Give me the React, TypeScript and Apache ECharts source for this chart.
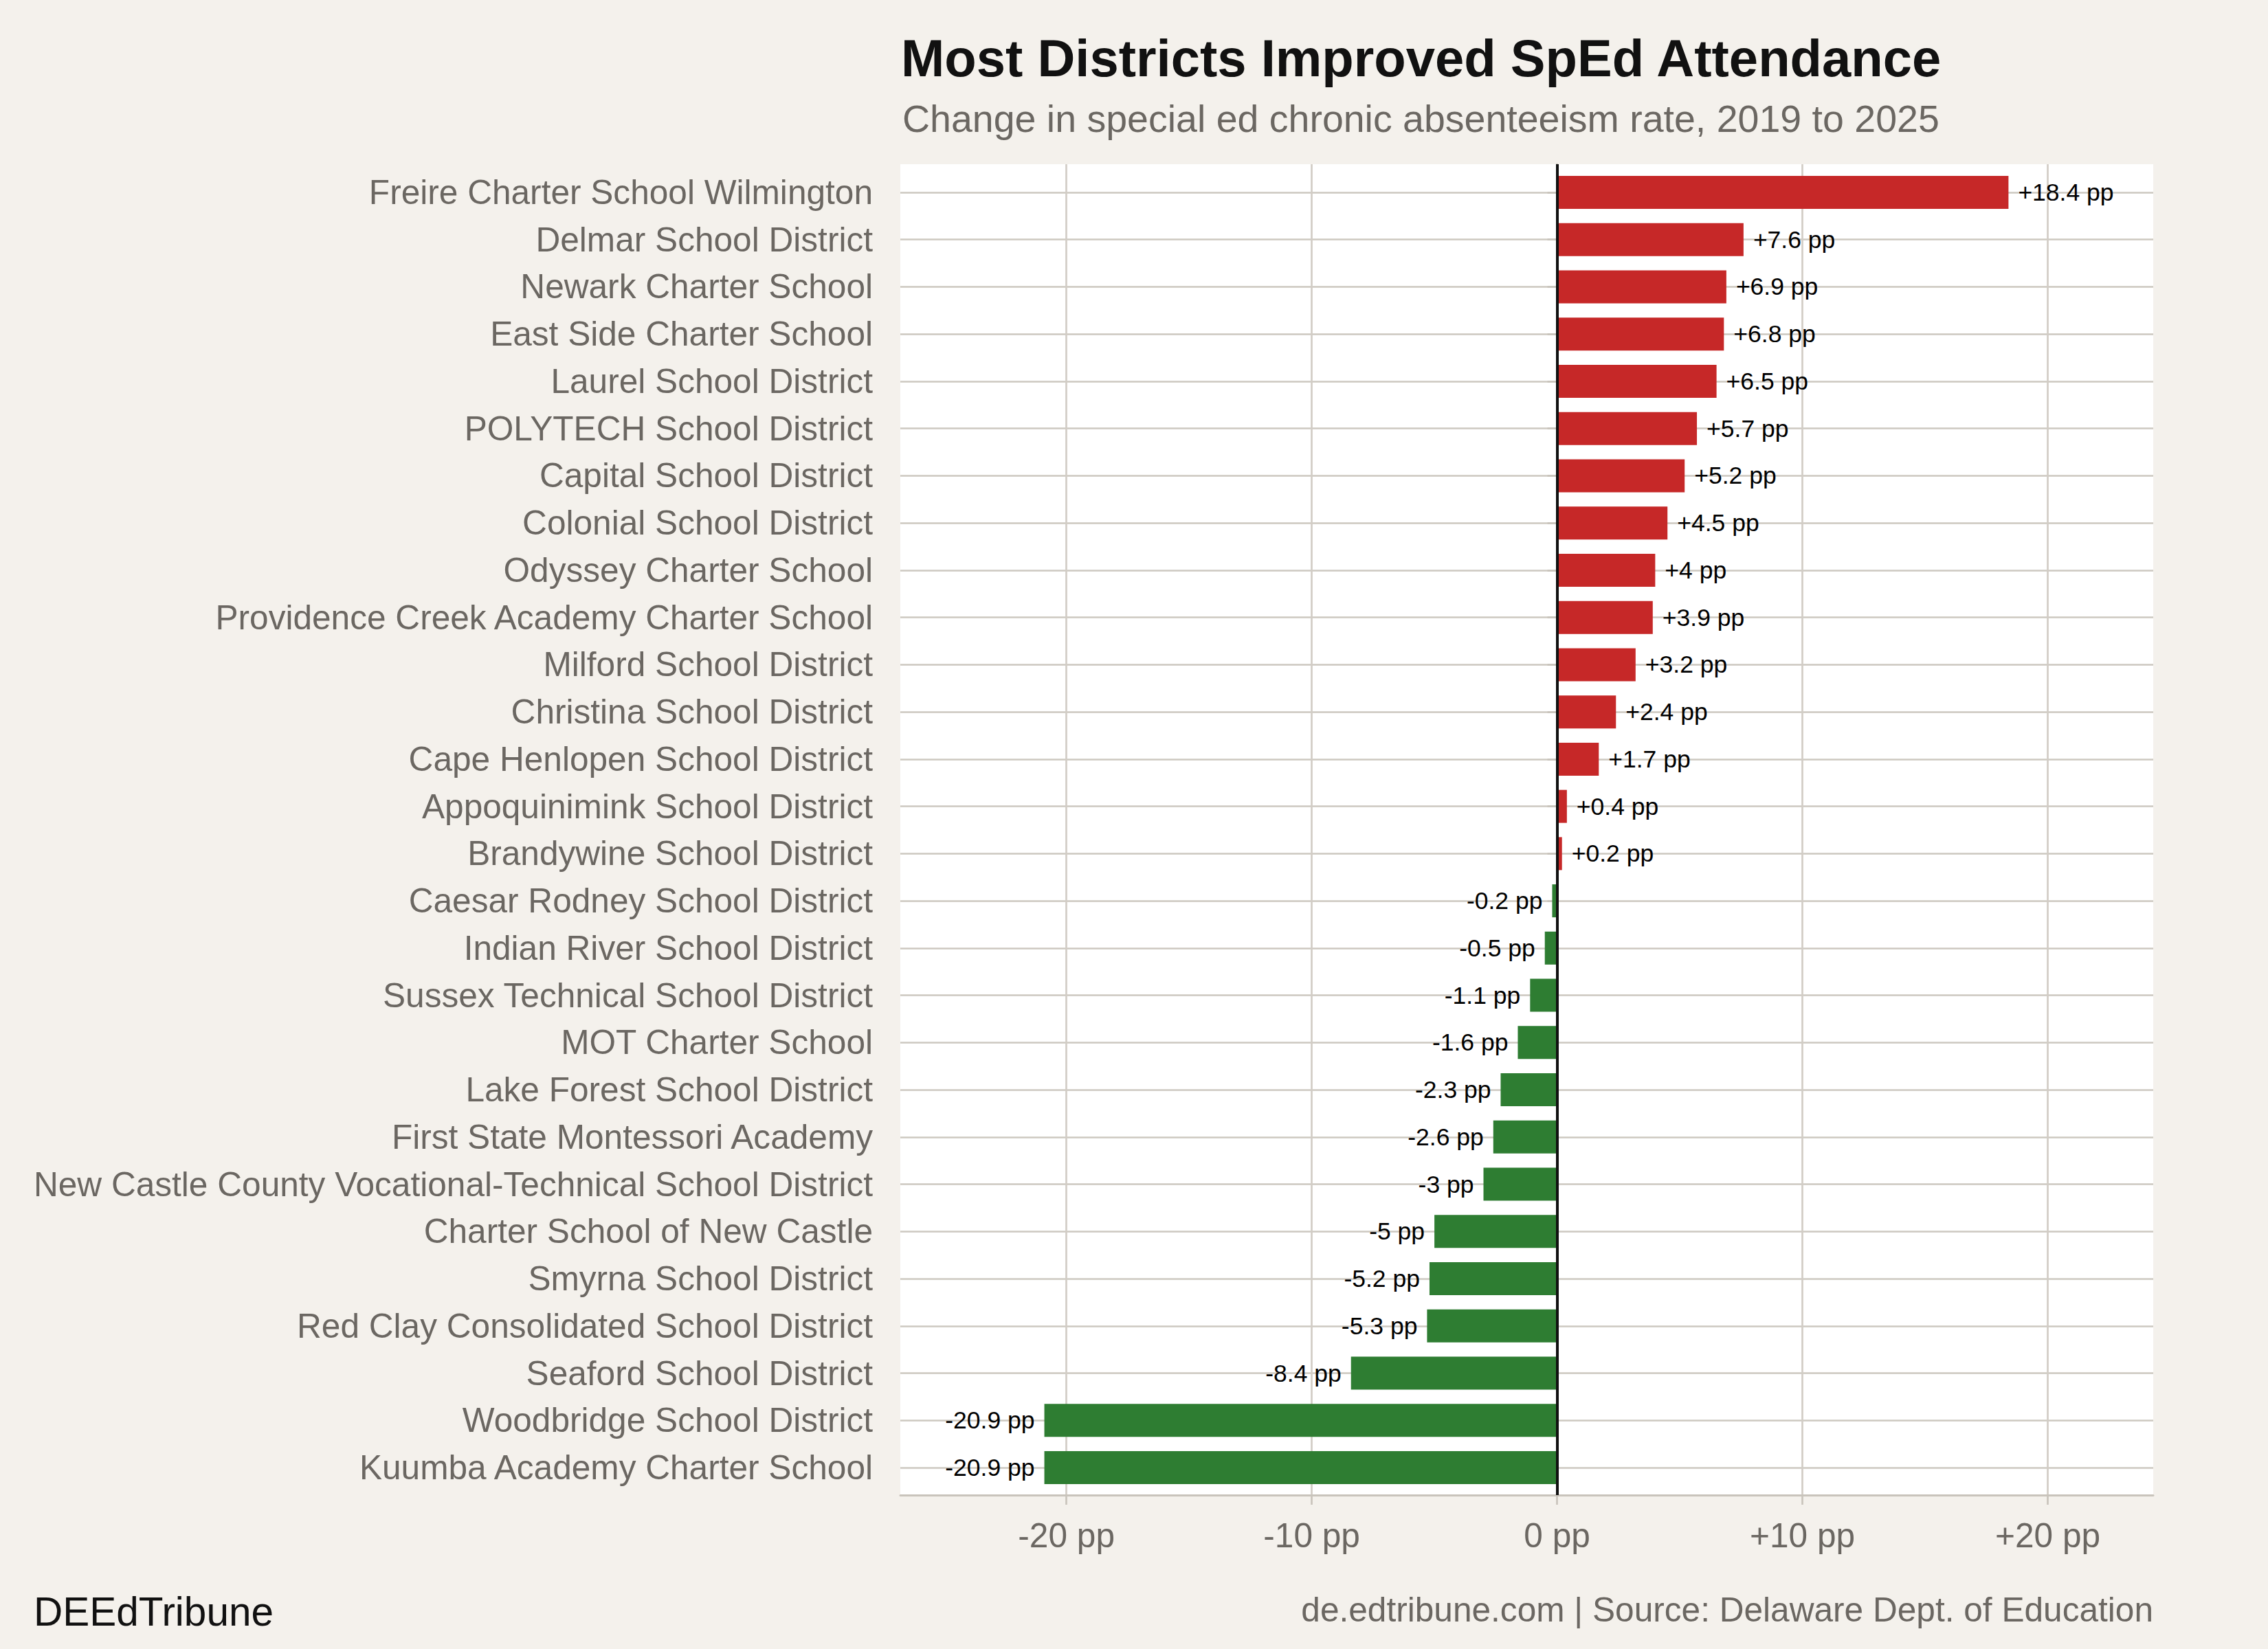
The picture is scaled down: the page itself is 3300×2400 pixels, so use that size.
import React, { useEffect, useRef } from "react";
import * as echarts from "echarts";

const TITLE = "Most Districts Improved SpEd Attendance";
const SUBTITLE = "Change in special ed chronic absenteeism rate, 2019 to 2025";
const BRAND = "DEEdTribune";
const SOURCE = "de.edtribune.com | Source: Delaware Dept. of Education";

const categories: string[] = [
  "Freire Charter School Wilmington",
  "Delmar School District",
  "Newark Charter School",
  "East Side Charter School",
  "Laurel School District",
  "POLYTECH School District",
  "Capital School District",
  "Colonial School District",
  "Odyssey Charter School",
  "Providence Creek Academy Charter School",
  "Milford School District",
  "Christina School District",
  "Cape Henlopen School District",
  "Appoquinimink School District",
  "Brandywine School District",
  "Caesar Rodney School District",
  "Indian River School District",
  "Sussex Technical School District",
  "MOT Charter School",
  "Lake Forest School District",
  "First State Montessori Academy",
  "New Castle County Vocational-Technical School District",
  "Charter School of New Castle",
  "Smyrna School District",
  "Red Clay Consolidated School District",
  "Seaford School District",
  "Woodbridge School District",
  "Kuumba Academy Charter School",
];

const changes: number[] = [
  18.4, 7.6, 6.9, 6.8, 6.5, 5.7, 5.2, 4.5, 4, 3.9, 3.2, 2.4, 1.7, 0.4, 0.2,
  -0.2, -0.5, -1.1, -1.6, -2.3, -2.6, -3, -5, -5.2, -5.3, -8.4, -20.9, -20.9,
];

const xTicks: number[] = [-20, -10, 0, 10, 20];
const X_MIN = -26.77;
const X_MAX = 24.3;

const FONT = "'Liberation Sans', Arial, Helvetica, sans-serif";
const BG = "#F4F1EC";
const GRAY = "#6B6762";
const AXIS = "#C9C4BC";
const GRID_H = "#CDC8C0";
const GRID_V = "#D2CDC6";
const RED = "#C62828";
const GREEN = "#2E7D32";

const fmtPP = (v: number) => (v > 0 ? `+${v} pp` : `${v} pp`);

export default function App() {
  const ref = useRef<HTMLDivElement>(null);

  useEffect(() => {
    if (!ref.current) return;
    const chart = echarts.init(ref.current, null, { renderer: "svg" });

    const barData = changes.map((v) => ({
      value: v,
      itemStyle: { color: v >= 0 ? RED : GREEN },
      label: { position: v >= 0 ? "right" : "left" },
    }));

    const option: any = {
      animation: false,
      backgroundColor: BG,
      textStyle: { fontFamily: FONT },
      title: [
        {
          text: TITLE,
          left: 1311,
          top: 46,
          padding: 0,
          textStyle: { fontSize: 76, fontWeight: "bold", color: "#111111", fontFamily: FONT },
        },
        {
          text: SUBTITLE,
          left: 1313,
          top: 145,
          padding: 0,
          textStyle: { fontSize: 55.5, fontWeight: "normal", color: GRAY, fontFamily: FONT },
        },
        {
          text: BRAND,
          left: 49,
          top: 2316,
          padding: 0,
          textStyle: { fontSize: 58.5, fontWeight: "normal", color: "#111111", fontFamily: FONT },
        },
        {
          text: SOURCE,
          right: 167,
          top: 2318,
          padding: 0,
          textStyle: { fontSize: 49.6, fontWeight: "normal", color: GRAY, fontFamily: FONT },
        },
      ],
      grid: [
        {
          left: 1310,
          top: 239,
          width: 1823,
          height: 1937,
          show: true,
          backgroundColor: "#FFFFFF",
          borderWidth: 0,
        },
        { left: 1310, top: 280, width: 1823, height: 1856 },
      ],
      xAxis: [
        {
          gridIndex: 0,
          type: "value",
          min: X_MIN,
          max: X_MAX,
          axisLine: { show: true, onZero: false, lineStyle: { color: AXIS, width: 3 } },
          axisTick: {
            show: true,
            length: 14,
            customValues: xTicks,
            lineStyle: { color: AXIS, width: 2.7 },
          },
          axisLabel: {
            show: true,
            customValues: xTicks,
            formatter: (v: number) => fmtPP(v),
            fontSize: 49.6,
            color: GRAY,
            margin: 34,
            fontFamily: FONT,
          },
          splitLine: {
            show: true,
            lineStyle: { color: GRID_V, width: 2.7 },
          },
        },
        {
          gridIndex: 1,
          type: "value",
          min: X_MIN,
          max: X_MAX,
          show: false,
          splitLine: { show: false },
        },
      ],
      yAxis: [
        {
          gridIndex: 0,
          type: "value",
          min: 0,
          max: 1,
          axisLine: { show: true, lineStyle: { color: AXIS, width: 3 } },
          axisTick: { show: false },
          axisLabel: { show: false },
          splitLine: { show: false },
        },
        {
          gridIndex: 1,
          type: "category",
          data: categories,
          inverse: true,
          boundaryGap: false,
          axisLine: { show: false },
          axisTick: { show: true, length: 14, interval: 0, lineStyle: { color: AXIS, width: 2.7 } },
          axisLabel: {
            interval: 0,
            fontSize: 49.6,
            color: GRAY,
            margin: 40,
            fontFamily: FONT,
          },
          splitLine: { show: true, interval: 0, lineStyle: { color: GRID_H, width: 2.7 } },
        },
      ],
      series: [
        {
          type: "scatter",
          xAxisIndex: 0,
          yAxisIndex: 0,
          data: [],
          silent: true,
          markLine: {
            silent: true,
            symbol: ["none", "none"],
            z: 10,
            label: { show: false },
            lineStyle: { color: "#111111", width: 4, type: "solid" },
            data: [{ xAxis: 0 }],
          },
        },
        {
          type: "bar",
          xAxisIndex: 1,
          yAxisIndex: 1,
          data: barData,
          barWidth: 48,
          clip: false,
          z: 3,
          label: {
            show: true,
            distance: 14,
            fontSize: 35.5,
            color: "#000000",
            fontFamily: FONT,
            formatter: (p: any) => fmtPP(p.value),
          },
        },
      ],
    };

    chart.setOption(option);
    return () => chart.dispose();
  }, []);

  return (
    <div
      ref={ref}
      style={{ position: "fixed", left: 0, top: 0, width: 3300, height: 2400 }}
    />
  );
}
